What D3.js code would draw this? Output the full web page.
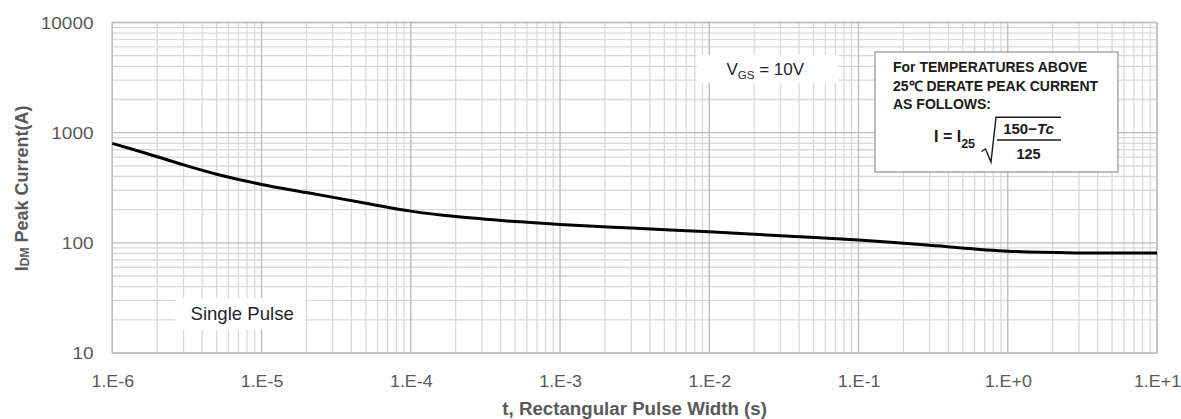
<!DOCTYPE html>
<html>
<head>
<meta charset="utf-8">
<script src="https://cdn.jsdelivr.net/npm/d3@7/dist/d3.min.js"></script>
<style>
  html, body { margin: 0; padding: 0; background: #ffffff; }
  svg { display: block; }
  text { font-family: "Liberation Sans", Arial, sans-serif; }
</style>
</head>
<body>
<svg id="chart" width="1181" height="419"></svg>
<script>
// ---- data ----
const pulseWidth = [1e-6, 2e-6, 3e-6, 5e-6, 1e-5, 2e-5, 5e-5, 1e-4, 2e-4, 5e-4, 1e-3, 3e-3, 1e-2, 3e-2, 1e-1, 3e-1, 1, 3, 10];
const peakCurrent = [800, 605, 510, 420, 339, 286, 229, 194, 173, 156, 147, 136, 126, 116, 106, 95, 84, 81, 81];
const xTickValues = [1e-6, 1e-5, 1e-4, 1e-3, 1e-2, 1e-1, 1, 10];
const xTickLabels = ["1.E-6", "1.E-5", "1.E-4", "1.E-3", "1.E-2", "1.E-1", "1.E+0", "1.E+1"];
const yTickValues = [10, 100, 1000, 10000];
const yTickLabels = ["10", "100", "1000", "10000"];
const derateLines = ["For TEMPERATURES ABOVE", "25\u2103 DERATE PEAK CURRENT", "AS FOLLOWS:"];

// ---- layout ----
const svg = d3.select("#chart");
const L = 112.3, R = 1157, T = 22.5, B = 353;
const x = d3.scaleLog().domain([1e-6, 10]).range([L, R]);
const y = d3.scaleLog().domain([10, 10000]).range([B, T]);

const tickGray = "#595959";

// minor grid values
const xMinor = [], yMinor = [];
for (let i = 0; i < xTickValues.length - 1; i++) for (let k = 2; k <= 9; k++) xMinor.push(xTickValues[i] * k);
for (let i = 0; i < yTickValues.length - 1; i++) for (let k = 2; k <= 9; k++) yMinor.push(yTickValues[i] * k);

const grid = svg.append("g");
grid.selectAll(".xm").data(xMinor).join("line")
  .attr("x1", d => x(d)).attr("x2", d => x(d)).attr("y1", T).attr("y2", B)
  .attr("stroke", "#d9d9d9").attr("stroke-width", 1.3);
grid.selectAll(".ym").data(yMinor).join("line")
  .attr("y1", d => y(d)).attr("y2", d => y(d)).attr("x1", L).attr("x2", R)
  .attr("stroke", "#d9d9d9").attr("stroke-width", 1.3);
grid.selectAll(".xM").data(xTickValues).join("line")
  .attr("x1", d => x(d)).attr("x2", d => x(d)).attr("y1", T).attr("y2", B)
  .attr("stroke", "#bdbdbd").attr("stroke-width", 1.4);
grid.selectAll(".yM").data(yTickValues).join("line")
  .attr("y1", d => y(d)).attr("y2", d => y(d)).attr("x1", L).attr("x2", R)
  .attr("stroke", "#bdbdbd").attr("stroke-width", 1.4);
svg.append("rect").attr("x", L).attr("y", T).attr("width", R - L).attr("height", B - T)
  .attr("fill", "none").attr("stroke", "#bfbfbf").attr("stroke-width", 1.5);

// ---- axes (labels via d3 axis) ----
const xAxis = d3.axisBottom(x).tickValues(xTickValues)
  .tickFormat((d, i) => xTickLabels[i]).tickSize(0).tickPadding(0);
const gx = svg.append("g").attr("transform", `translate(0,${B})`).call(xAxis);
gx.select(".domain").remove();
gx.selectAll(".tick text").attr("fill", tickGray).attr("font-size", 15.8)
  .attr("x", 0).attr("y", 0).attr("dy", 0)
  .attr("transform", `translate(0,${386.5 - B}) scale(1.13,1)`)
  .attr("font-family", "Liberation Sans, Arial, sans-serif");

const yAxis = d3.axisLeft(y).tickValues(yTickValues)
  .tickFormat((d, i) => yTickLabels[i]).tickSize(0).tickPadding(0);
const gy = svg.append("g").attr("transform", `translate(93.5,0)`).call(yAxis);
gy.select(".domain").remove();
gy.selectAll(".tick text").attr("fill", tickGray).attr("font-size", 16.5)
  .attr("x", 0).attr("dy", "0.36em")
  .attr("transform", "scale(1.15,1)")
  .attr("font-family", "Liberation Sans, Arial, sans-serif");

// axis titles
svg.append("text").attr("x", (L + R) / 2).attr("y", 414.5)
  .attr("text-anchor", "middle").attr("font-weight", "bold").attr("font-size", 18.7)
  .attr("fill", tickGray).text("t, Rectangular Pulse Width (s)");

const yt = svg.append("text")
  .attr("transform", `translate(27.5,${(101.7 + 275) / 2}) rotate(-90)`)
  .attr("text-anchor", "middle").attr("font-weight", "bold").attr("font-size", 18)
  .attr("fill", tickGray);
yt.append("tspan").text("I");
yt.append("tspan").attr("font-size", 12).attr("dy", 1).text("DM");
yt.append("tspan").attr("dy", -1).text(" Peak Current(A)");

// ---- curve ----
const line = d3.line().x(d => x(d[0])).y(d => y(d[1])).curve(d3.curveBasis);
const pts = pulseWidth.map((t, i) => [t, peakCurrent[i]]);
const line2 = d3.line().x(d => x(d[0])).y(d => y(d[1])).curve(d3.curveCatmullRom.alpha(0.5));
svg.append("path").datum(pts)
  .attr("d", line2).attr("fill", "none").attr("stroke", "#000")
  .attr("stroke-width", 3).attr("stroke-linejoin", "round");

// ---- annotations ----
// VGS box
svg.append("rect").attr("x", 697).attr("y", 55).attr("width", 141).attr("height", 28).attr("fill", "#fff");
const vgs = svg.append("text").attr("x", 726.5).attr("y", 75).attr("font-size", 17).attr("fill", "#1f1f2f");
vgs.append("tspan").text("V");
vgs.append("tspan").attr("font-size", 11.5).attr("dy", 4).text("GS");
vgs.append("tspan").attr("dy", -4).text(" = 10V");

// Single Pulse box
svg.append("rect").attr("x", 175).attr("y", 298).attr("width", 130).attr("height", 32).attr("fill", "#fff");
svg.append("text").attr("x", 190.5).attr("y", 319.5).attr("font-size", 18.6).attr("fill", "#1f1f2f").text("Single Pulse");

// Derating box
svg.append("rect").attr("x", 875).attr("y", 52).attr("width", 243).attr("height", 120)
  .attr("fill", "#fff").attr("stroke", "#a6a6a6").attr("stroke-width", 1.5);
svg.selectAll(".der").data(derateLines).join("text")
  .attr("x", 893).attr("y", (d, i) => 72.3 + i * 18.4)
  .attr("font-size", 14).attr("font-weight", "bold").attr("fill", "#1a1a1a")
  .text(d => d);

const f = svg.append("text").attr("x", 934).attr("y", 141.5).attr("font-size", 16)
  .attr("font-weight", "bold").attr("fill", "#1a1a1a");
f.append("tspan").text("I = I");
f.append("tspan").attr("font-size", 12.5).attr("dy", 6).text("25");

svg.append("path").attr("d", "M 981.5 151.5 L 985.5 149 L 991 162 L 996 117.3 L 1061 117.3")
  .attr("fill", "none").attr("stroke", "#1a1a1a").attr("stroke-width", 1.4);
svg.append("line").attr("x1", 997).attr("x2", 1061).attr("y1", 140).attr("y2", 140)
  .attr("stroke", "#1a1a1a").attr("stroke-width", 1.5);
const num = svg.append("text").attr("x", 1028.5).attr("y", 133.5).attr("text-anchor", "middle")
  .attr("font-family", "DejaVu Serif, serif").attr("font-weight", "bold").attr("font-size", 15)
  .attr("fill", "#1a1a1a");
num.append("tspan").text("150\u2212");
num.append("tspan").attr("font-style", "italic").text("Tc");
svg.append("text").attr("x", 1028.5).attr("y", 158.5).attr("text-anchor", "middle")
  .attr("font-family", "DejaVu Serif, serif").attr("font-weight", "bold").attr("font-size", 14.5)
  .attr("fill", "#1a1a1a").text("125");
</script>
</body>
</html>
